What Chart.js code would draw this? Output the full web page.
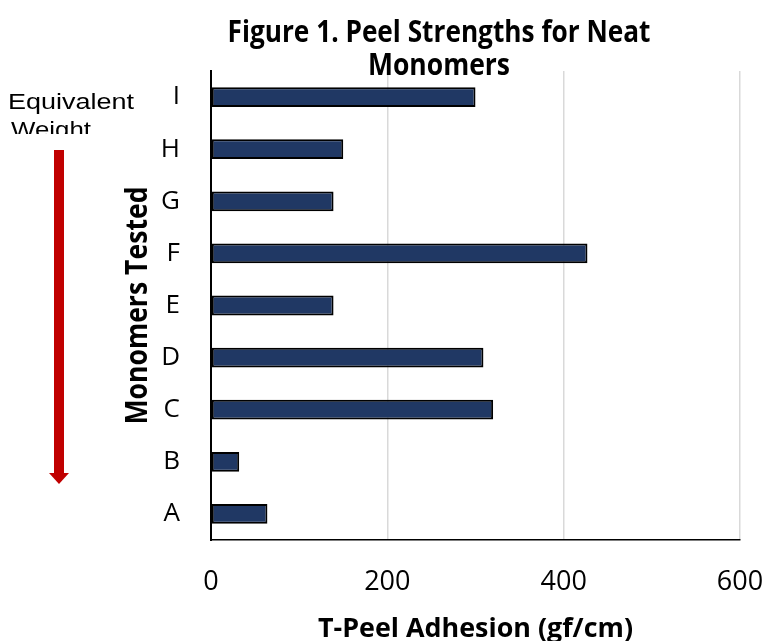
<!DOCTYPE html>
<html lang="en">
<head>
  <meta charset="UTF-8" />
  <title>Peel Strengths for Neat Monomers</title>
  <script src="https://cdn.jsdelivr.net/npm/chart.js"></script>
  <style>
    html, body { margin: 0; padding: 0; background: #fff; }
    #wrap { width: 767px; height: 641px; }
  </style>
</head>
<body>
  <div id="wrap"><canvas id="peel-chart" width="767" height="641"></canvas></div>

  <script>
    const monomers = ['A', 'B', 'C', 'D', 'E', 'F', 'G', 'H', 'I'];
    const peelStrength = [64, 32, 320, 309, 139, 427, 139, 150, 300];
    const xTickValues = [0, 200, 400, 600];

    const titleLines = ['Figure 1. Peel Strengths for Neat', 'Monomers'];
    const xTitle = 'T-Peel Adhesion (gf/cm)';
    const yTitle = 'Monomers Tested';
    const noteLines = ['Equivalent', 'Weight'];

    // squeeze/stretch text to the width it has in the original figure
    function fitText(ctx, text, x, y, font, width, align) {
      ctx.font = font;
      const w = ctx.measureText(text).width;
      ctx.save();
      ctx.translate(x, y);
      ctx.scale(width / w, 1);
      ctx.textAlign = align || 'center';
      ctx.textBaseline = 'alphabetic';
      ctx.fillText(text, 0, 0);
      ctx.restore();
    }

    const decorations = {
      id: 'decorations',
      afterDraw(chart) {
        const ctx = chart.ctx;
        const area = chart.chartArea;
        ctx.save();
        ctx.fillStyle = '#000';

        fitText(ctx, titleLines[0], 439, 42, 'bold 31px "Open Sans"', 423);
        fitText(ctx, titleLines[1], 439, 75, 'bold 31px "Open Sans"', 142);

        fitText(ctx, xTitle, (area.left + area.right) / 2, 637, 'bold 27px "Open Sans"', 315);

        ctx.save();
        ctx.translate(147, (area.top + area.bottom) / 2);
        ctx.rotate(-Math.PI / 2);
        fitText(ctx, yTitle, 0, 0, 'bold 30px "Open Sans"', 238);
        ctx.restore();

        // text box on the left is clipped under "Weight"
        ctx.save();
        ctx.beginPath();
        ctx.rect(0, 0, 200, 134);
        ctx.clip();
        fitText(ctx, noteLines[0], 8, 109, '22px "Liberation Sans"', 126, 'left');
        fitText(ctx, noteLines[1], 11, 137, '22px "Liberation Sans"', 80, 'left');
        ctx.restore();

        // red arrow
        ctx.fillStyle = '#c00000';
        ctx.fillRect(54, 150, 10, 323);
        ctx.beginPath();
        ctx.moveTo(49, 473);
        ctx.lineTo(69, 473);
        ctx.lineTo(59, 484);
        ctx.closePath();
        ctx.fill();

        ctx.restore();
      }
    };

    const ctx = document.getElementById('peel-chart').getContext('2d');

    new Chart(ctx, {
      type: 'bar',
      data: {
        labels: monomers,
        datasets: [{
          label: 'T-Peel Adhesion (gf/cm)',
          data: peelStrength,
          backgroundColor: '#203864',
          borderColor: '#000',
          borderWidth: 2,
          borderSkipped: false,
          categoryPercentage: 1,
          barPercentage: 0.38
        }]
      },
      options: {
        indexAxis: 'y',
        responsive: false,
        animation: false,
        layout: { padding: { top: 71, right: 27, left: 0, bottom: 0 } },
        plugins: {
          legend: { display: false },
          tooltip: { enabled: false }
        },
        scales: {
          x: {
            min: 0,
            max: 600,
            afterBuildTicks: (scale) => { scale.ticks = xTickValues.map(v => ({ value: v })); },
            afterFit: (scale) => {
              scale.height = 101;
              scale.paddingLeft = 0;
              scale.paddingRight = 0;
            },
            grid: { color: '#d9d9d9', lineWidth: 1.5, drawTicks: false },
            border: { color: '#000', width: 1.5 },
            ticks: {
              color: '#000',
              padding: 26,
              font: { family: 'Open Sans', size: 27 }
            }
          },
          y: {
            reverse: true,
            afterFit: (scale) => { scale.width = 211; },
            grid: { color: 'rgba(0,0,0,0)', drawTicks: false },
            border: { color: '#000', width: 2 },
            ticks: {
              color: '#000',
              padding: 31,
              font: { family: 'Open Sans', size: 26 }
            }
          }
        }
      },
      plugins: [decorations]
    });
  </script>
</body>
</html>
